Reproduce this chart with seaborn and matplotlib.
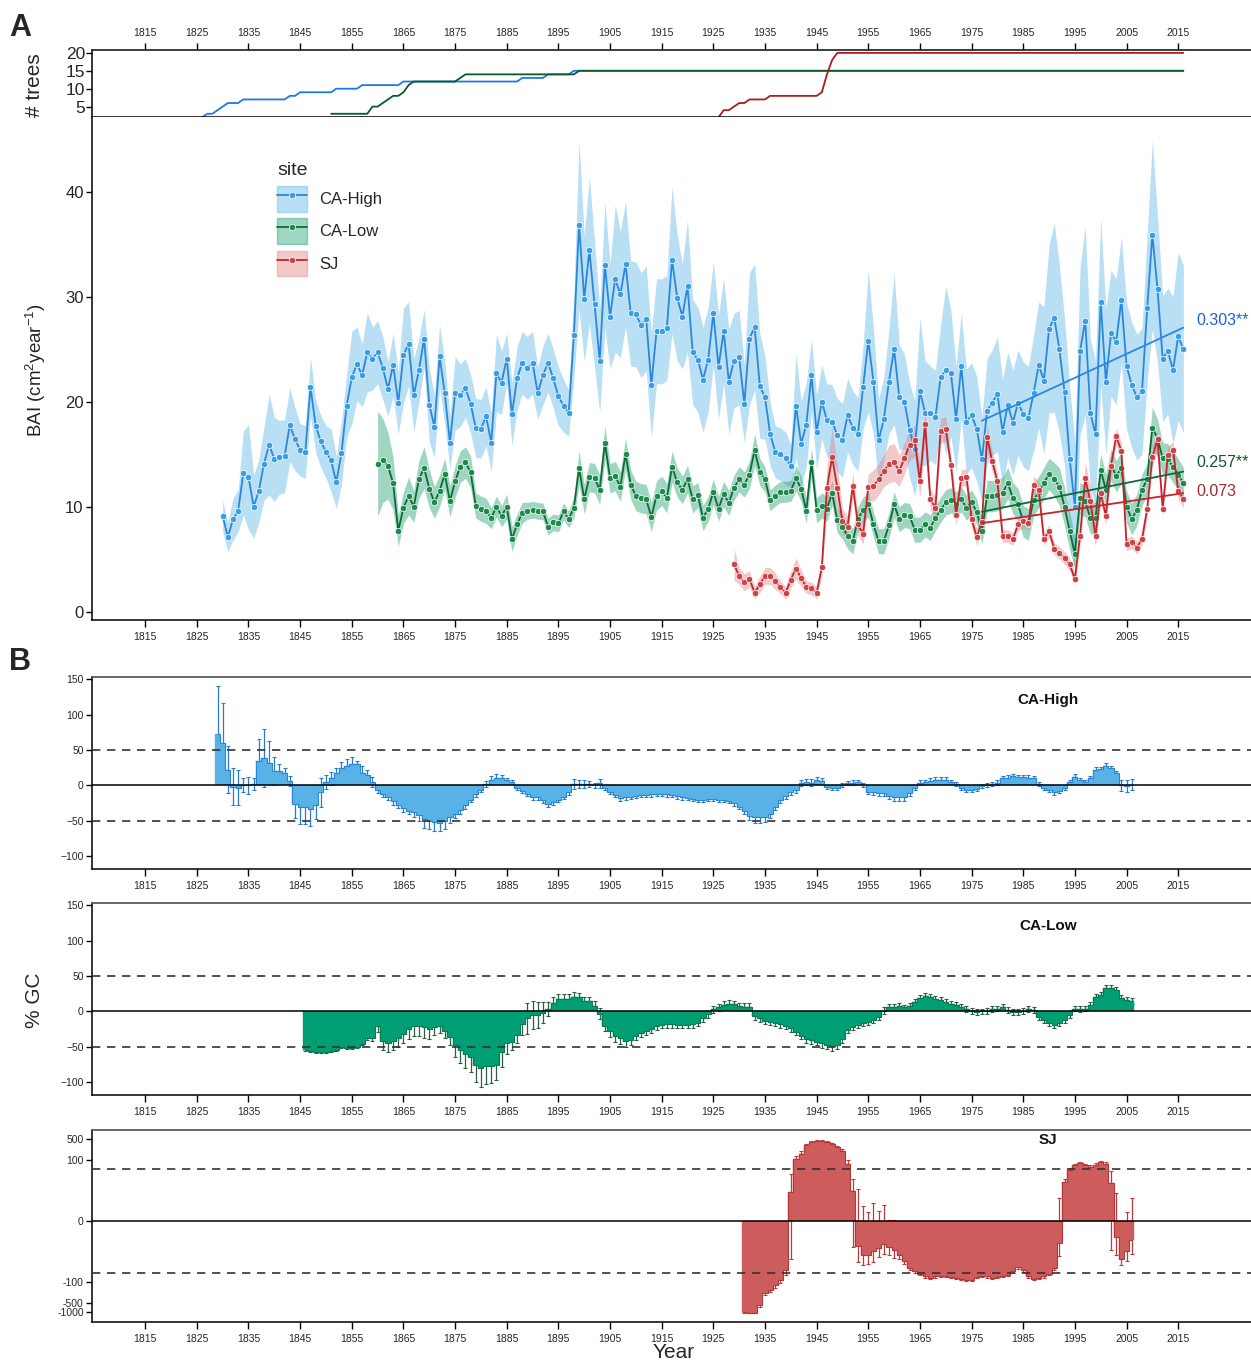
import matplotlib
matplotlib.use("Agg")
import matplotlib.pyplot as plt
import numpy as np
import pandas as pd
import seaborn as sb
from matplotlib.lines import Line2D
from matplotlib.patches import Patch

# ---------------- panel A (top): number of trees, line vertices
trees_high_yr = [1826, 1827, 1828, 1829, 1830, 1831, 1833, 1834, 1842, 1843, 1844, 1845, 1851,
                 1852, 1856, 1857, 1864, 1865, 1887, 1888, 1892, 1893, 1897, 1898, 2016]
trees_high_n = [2, 3, 3, 4, 5, 6, 6, 7, 7, 8, 8, 9, 9, 10, 10, 11, 11, 12, 12, 13, 13, 14, 14, 15, 15]
trees_low_yr = [1851, 1858, 1859, 1860, 1861, 1862, 1863, 1864, 1865, 1866, 1867, 1875, 1876,
                1877, 1898, 1899, 2016]
trees_low_n = [3, 3, 5, 5, 6, 7, 8, 8, 9, 11, 12, 12, 13, 14, 14, 15, 15]
trees_sj_yr = [1926, 1927, 1928, 1929, 1930, 1931, 1932, 1935, 1936, 1945, 1946, 1947, 1948, 1949, 2016]
trees_sj_n = [2, 4, 4, 5, 6, 6, 7, 7, 8, 8, 9, 14, 18, 20, 20]

# ---------------- panel A (main): BAI mean and ribbon half-width
bai_high_start = 1830
bai_high = [9.1, 7.1, 8.8, 9.6, 13.2, 12.8, 10.0, 11.5, 14.1, 15.9,
            14.5, 14.7, 14.8, 17.8, 16.4, 15.4, 15.2, 21.4, 17.7, 16.2,
            15.2, 14.4, 12.3, 15.1, 19.6, 22.3, 23.6, 22.5, 24.7, 24.1,
            24.7, 23.2, 21.2, 23.5, 19.9, 24.4, 25.5, 20.6, 23.0, 26.0,
            19.7, 17.6, 24.3, 20.8, 16.1, 20.8, 20.6, 21.3, 19.8, 17.5,
            17.4, 18.6, 16.1, 22.7, 21.8, 24.1, 18.8, 22.2, 23.7, 23.2,
            23.7, 20.8, 22.5, 23.7, 22.2, 20.5, 19.6, 18.9, 26.3, 36.8,
            29.8, 34.4, 29.3, 23.9, 33.0, 28.1, 31.7, 30.2, 33.1, 28.4,
            28.3, 27.3, 27.9, 21.6, 26.7, 26.7, 27.0, 33.5, 29.9, 28.1,
            31.0, 24.7, 24.0, 22.1, 24.0, 28.4, 23.3, 26.7, 21.9, 23.9,
            24.2, 19.8, 26.0, 27.1, 21.5, 20.4, 16.9, 15.2, 15.0, 14.6,
            13.9, 19.6, 16.0, 17.8, 22.5, 17.1, 20.0, 18.2, 18.1, 16.8,
            16.3, 18.7, 17.5, 16.9, 21.4, 25.8, 21.9, 16.3, 18.3, 21.9,
            25.0, 20.4, 20.0, 17.3, 15.5, 21.0, 18.9, 18.9, 18.5, 22.3,
            23.0, 22.7, 18.3, 23.4, 18.1, 18.7, 17.4, 14.5, 19.1, 19.9,
            20.7, 17.1, 19.7, 18.0, 19.9, 18.8, 18.4, 20.8, 23.5, 22.0,
            26.9, 28.0, 25.0, 20.9, 14.5, 10.0, 24.8, 27.7, 18.9, 16.9,
            29.5, 21.9, 26.5, 25.7, 29.7, 23.4, 21.6, 20.4, 21.0, 28.9,
            35.9, 30.7, 24.1, 24.8, 23.0, 26.2, 25.0]
bai_high_hw = [1.5, 1.4, 2.0, 2.0, 4.0, 5.0, 3.0, 3.0, 3.5, 4.8,
               4.0, 3.5, 3.5, 3.5, 3.0, 2.5, 2.5, 2.8, 2.5, 2.5,
               2.5, 3.0, 2.5, 3.0, 3.0, 4.4, 3.5, 3.0, 3.8, 3.0,
               3.0, 3.0, 2.6, 3.0, 3.0, 4.5, 4.0, 3.5, 3.0, 2.8,
               3.5, 3.0, 3.0, 3.0, 2.5, 3.5, 3.0, 2.8, 2.8, 2.8,
               2.8, 2.8, 2.8, 3.7, 3.0, 2.4, 3.0, 3.0, 3.0, 3.0,
               3.0, 2.5, 2.8, 2.8, 2.8, 2.8, 2.5, 2.2, 4.0, 8.0,
               6.0, 7.0, 6.0, 5.0, 6.0, 5.0, 7.0, 6.0, 6.0, 5.0,
               5.0, 5.0, 5.0, 5.0, 5.0, 5.0, 5.0, 7.0, 6.0, 5.0,
               6.3, 5.0, 5.0, 5.0, 5.0, 4.9, 5.0, 5.0, 5.0, 4.5,
               4.5, 3.7, 6.3, 6.0, 5.0, 4.0, 3.0, 2.5, 2.5, 2.5,
               2.0, 5.0, 4.0, 4.0, 3.5, 3.5, 3.5, 3.5, 3.5, 3.5,
               3.5, 3.5, 3.5, 3.5, 4.0, 6.8, 5.0, 4.0, 4.0, 5.0,
               7.2, 5.0, 4.5, 4.5, 4.5, 7.0, 5.0, 4.5, 4.5, 5.0,
               8.0, 6.0, 5.0, 5.0, 5.0, 5.0, 5.0, 4.0, 5.0, 5.0,
               5.5, 5.0, 5.0, 5.0, 5.0, 5.0, 5.0, 5.5, 6.0, 7.0,
               8.0, 9.0, 8.0, 7.0, 7.0, 6.0, 8.0, 9.0, 7.0, 7.0,
               8.0, 7.0, 6.0, 6.0, 6.0, 6.0, 6.0, 6.0, 6.0, 7.0,
               9.0, 7.0, 6.0, 6.0, 7.0, 8.0, 8.0]

bai_low_start = 1860
bai_low = [14.1, 14.4, 13.9, 12.2, 7.7, 9.9, 11.0, 10.0, 12.6, 13.7,
           11.7, 10.4, 11.5, 13.1, 10.5, 12.4, 13.8, 14.2, 13.3, 10.1,
           9.8, 9.6, 8.9, 10.0, 9.1, 10.0, 6.9, 8.3, 9.4, 9.6,
           9.7, 9.6, 9.55, 8.1, 8.5, 8.4, 9.55, 8.8, 9.9, 13.7,
           10.7, 12.8, 12.7, 11.6, 16.1, 12.7, 12.9, 11.9, 15.0, 12.1,
           11.0, 10.8, 10.7, 9.0, 11.05, 11.5, 10.8, 13.8, 12.3, 11.6,
           12.6, 10.7, 11.1, 8.9, 9.8, 11.4, 9.8, 11.2, 10.35, 11.8,
           12.6, 12.1, 13.05, 15.4, 13.3, 12.6, 10.6, 11.05, 11.4, 11.4,
           11.5, 12.7, 11.7, 9.6, 14.2, 9.65, 10.1, 9.8, 11.3, 8.7,
           8.1, 7.2, 6.7, 8.8, 9.7, 10.2, 8.3, 6.7, 6.7, 8.2,
           10.2, 8.8, 9.2, 9.1, 7.8, 7.8, 8.3, 8.0, 8.9, 9.7,
           10.4, 10.6, 10.2, 10.7, 9.9, 10.4, 9.5, 7.65, 11.0, 11.0,
           11.1, 11.3, 12.25, 10.8, 10.2, 8.6, 8.3, 10.6, 11.4, 12.25,
           13.1, 12.6, 11.9, 10.0, 7.65, 5.5, 10.8, 10.5, 8.9, 8.9,
           13.5, 11.6, 14.0, 12.9, 13.7, 10.0, 8.8, 9.7, 11.6, 12.6,
           17.5, 16.5, 14.6, 14.5, 13.8, 13.05, 12.25]
bai_low_hw = [5.0, 4.0, 3.2, 2.5, 1.5, 1.5, 1.8, 1.5, 1.8, 2.0,
              1.8, 1.5, 1.5, 1.5, 1.5, 1.5, 1.5, 1.5, 1.5, 1.2,
              1.2, 1.2, 1.0, 1.0, 1.0, 1.2, 1.2, 1.0, 1.0, 0.8,
              0.8, 0.8, 0.8, 0.8, 0.8, 0.8, 0.8, 0.8, 1.0, 1.6,
              1.4, 1.4, 1.4, 1.4, 1.6, 1.4, 1.4, 1.4, 1.5, 1.4,
              1.4, 1.4, 1.4, 1.4, 1.4, 1.4, 1.4, 1.5, 1.4, 1.3,
              1.3, 1.3, 1.2, 1.2, 1.2, 1.2, 1.2, 1.2, 1.2, 1.2,
              1.2, 1.2, 1.3, 1.5, 1.3, 1.2, 1.0, 1.0, 1.0, 1.0,
              1.0, 1.2, 1.2, 1.2, 1.4, 1.2, 1.2, 1.2, 1.2, 1.2,
              1.2, 1.2, 1.2, 1.2, 1.2, 1.2, 1.2, 1.2, 1.2, 1.2,
              1.2, 1.2, 1.2, 1.2, 1.2, 1.2, 1.2, 1.2, 1.2, 1.2,
              1.2, 1.2, 1.2, 1.2, 1.2, 1.2, 1.2, 1.2, 1.5, 1.5,
              1.5, 1.5, 1.5, 1.5, 1.5, 1.5, 1.5, 1.5, 1.5, 1.5,
              1.5, 1.6, 1.8, 1.8, 1.8, 1.5, 1.5, 1.5, 1.5, 1.5,
              1.5, 1.5, 1.5, 1.5, 1.5, 1.5, 1.5, 1.5, 1.5, 1.5,
              2.0, 1.8, 1.5, 1.5, 1.5, 1.5, 1.5]

bai_sj_start = 1929
bai_sj = [4.5, 3.4, 2.8, 3.1, 1.8, 2.6, 3.4, 3.4, 2.9, 2.3,
          1.8, 3.05, 4.1, 3.2, 2.35, 2.2, 1.8, 4.2, 11.8, 14.7,
          11.8, 8.6, 8.1, 12.0, 8.3, 7.4, 11.9, 12.0, 12.6, 13.4,
          14.05, 14.2, 13.4, 14.6, 15.9, 16.3, 12.4, 17.9, 10.7, 9.9,
          17.2, 17.4, 14.0, 9.2, 12.7, 12.8, 8.8, 7.1, 8.5, 16.6,
          14.3, 12.4, 7.2, 7.2, 6.9, 8.3, 8.6, 8.4, 12.1, 11.6,
          6.9, 7.65, 6.0, 5.6, 5.1, 4.5, 3.1, 7.2, 12.7, 10.5,
          7.2, 11.3, 9.1, 13.9, 16.7, 15.3, 6.4, 6.6, 6.1, 6.9,
          9.8, 14.7, 16.4, 9.8, 14.9, 15.4, 11.5, 10.7]
bai_sj_hw = [1.5, 0.8, 0.8, 0.8, 0.6, 0.8, 0.8, 0.8, 0.8, 0.6,
             0.6, 0.8, 1.0, 0.8, 0.6, 0.6, 0.6, 0.8, 2.0, 2.8,
             2.0, 1.2, 1.0, 1.2, 1.0, 1.0, 1.2, 1.5, 1.5, 1.5,
             1.8, 1.8, 1.5, 1.5, 1.5, 1.5, 1.5, 1.5, 1.0, 1.0,
             1.2, 1.2, 1.0, 1.0, 0.8, 0.8, 0.8, 0.8, 0.8, 1.2,
             1.0, 0.8, 0.6, 0.6, 0.6, 0.6, 0.6, 0.6, 0.8, 0.8,
             0.6, 0.6, 0.6, 0.6, 0.6, 0.6, 0.6, 0.8, 1.5, 1.5,
             1.0, 0.8, 0.8, 0.8, 0.8, 0.8, 0.6, 0.6, 0.6, 0.6,
             0.8, 1.0, 0.8, 0.8, 0.8, 0.8, 0.8, 0.8]

trend_from = 1977
trend_labels = ["0.303**", "0.257**", "0.073"]

# ---------------- panel B: % growth change and error
gc_high_start = 1829
gc_high = [72, 60, 22, -2, -3, 1, 0, 2, 35, 39,
           32, 20, 20, 17, 6, -26, -30, -30, -34, -27,
           -10, 5, 10, 17, 25, 28, 30, 30, 18, 15,
           5, -7, -12, -17, -22, -27, -32, -36, -38, -42,
           -48, -50, -52, -53, -50, -45, -40, -35, -28, -20,
           -12, -6, 2, 8, 11, 10, 7, 5, -3, -8,
           -12, -16, -17, -21, -26, -24, -20, -16, -10, 2,
           2, 2, 2, 0, 3, -4, -9, -14, -18, -17,
           -16, -15, -14, -13, -12.7, -12, -11.8, -12.7, -14, -15.5,
           -17, -18, -19, -20, -20, -19, -19, -21, -21, -22.5,
           -25, -30, -36, -43, -45, -45, -44, -40, -30, -21,
           -15, -9, -7, 3, 5, 4, 7.5, 6.6, -2, -4,
           -3, 0.5, 3, 4, 5, 0.5, -9, -10, -11, -11,
           -15, -17, -17, -17, -11, -4, 4, 5, 6.6, 7.5,
           7.5, 7.5, 5, 2, -4, -6.6, -6.6, -5.6, -1, 1,
           2, 4, 10, 11, 13, 12, 12, 11, 10, 2,
           -4, -6.6, -10, -7.5, -4, 5, 12, 7.5, 5, 10,
           21.6, 22.6, 27.3, 24, 17, 0, -1, 1]
gc_high_err = [68, 57, 33, 26, 25, 10, 12, 8, 30, 41,
               30, 20, 10, 7, 7, 20, 24, 25, 24, 21,
               20, 10, 9, 8, 8, 9, 10, 4, 10, 7,
               7, 4, 4, 4, 5, 5, 5, 5, 6, 8,
               12, 12, 12, 12, 12, 8, 6, 5, 5, 4,
               4, 4, 4, 5, 5, 4, 4, 3, 3, 3,
               3, 4, 4, 4, 4, 4, 3, 3, 3, 7,
               5, 6, 4, 4, 6, 3, 3, 3, 4, 4,
               3, 3, 3, 3, 3, 3, 3, 3, 3, 3,
               3, 3, 3, 3, 3, 3, 3, 3, 3, 3,
               4, 4, 5, 6, 8, 8, 8, 6, 5, 4,
               4, 4, 4, 4, 4, 5, 5, 4, 3, 3,
               3, 3, 3, 3, 3, 3, 3, 3, 4, 4,
               4, 5, 5, 5, 4, 3, 3, 3, 4, 4,
               4, 4, 3, 3, 3, 3, 3, 3, 3, 3,
               3, 3, 3, 3, 3, 3, 3, 3, 3, 3,
               3, 3, 3, 3, 3, 3, 4, 3, 3, 3,
               4, 4, 4, 4, 4, 8, 8, 8]

gc_low_start = 1846
gc_low = [-54, -56, -57, -57, -57, -56, -54, -50, -51, -51,
          -50, -46, -37, -37, -21, -42, -44, -42, -38, -32,
          -25, -21, -20, -22, -25, -22, -20, -27, -36, -47,
          -55, -60, -65, -75, -80, -77, -77, -75, -58, -45,
          -43, -33, -18, -10, -5, -5, -2, 3, 12, 17,
          17, 18, 20, 20, 15, 14, 8, -3, -20, -28,
          -35, -38, -42, -40, -35, -31, -28, -25, -21, -19,
          -18, -18, -19, -19, -19, -18, -16, -10, -4, 3,
          6, 9, 11, 10, 7, 6.5, 6.5, -6.5, -10, -13,
          -14.5, -16, -18, -20.5, -24, -28.5, -34.5, -39, -41, -42.5,
          -45, -47, -49.5, -47, -39, -26, -21.5, -19, -16, -14.5,
          -12, -7.5, 1, 6.5, 6.5, 7.5, 5.6, 7.5, 13.5, 19.6,
          21.5, 20.5, 18, 16, 13.5, 11, 9, 6.5, 3, 1,
          -0.5, 0, 1, 3, 4, 6.5, 2, -0.5, -0.5, 1,
          3.7, 2, -7.5, -12, -16, -19, -16, -12, -5, 4,
          3, 4, 9, 20.5, 23, 33.6, 33.6, 30, 19.6, 16,
          14.5]
gc_low_err = [2, 2, 2, 2, 2, 2, 2, 2, 2, 2,
              2, 2, 3, 5, 8, 12, 14, 12, 12, 12,
              14, 14, 15, 15, 14, 12, 10, 10, 12, 18,
              18, 20, 20, 25, 27, 25, 24, 22, 20, 15,
              12, 12, 15, 22, 20, 18, 15, 10, 8, 7,
              7, 7, 7, 6, 6, 6, 6, 8, 8, 8,
              8, 8, 8, 7, 6, 5, 5, 5, 5, 5,
              5, 5, 5, 5, 5, 5, 5, 5, 5, 5,
              5, 5, 5, 5, 5, 5, 5, 5, 5, 5,
              5, 5, 5, 5, 5, 5, 5, 5, 5, 5,
              6, 6, 6, 6, 5, 5, 5, 5, 5, 5,
              5, 5, 5, 4, 4, 4, 4, 4, 4, 4,
              4, 4, 4, 4, 4, 4, 4, 4, 4, 4,
              4, 4, 4, 4, 4, 4, 4, 4, 4, 4,
              4, 4, 4, 4, 4, 4, 4, 4, 4, 4,
              4, 4, 4, 4, 4, 4, 4, 4, 4, 4,
              4]

gc_sj_start = 1931
gc_sj = [-990, -1040, -1040, -555, -230, -179, -123, -84, -39, 8,
         106, 162, 302, 390, 425, 425, 390, 330, 268, 198,
         76, 8.8, -5.6, -12, -12, -9, -6.8, -4.6, -5.9, -7.9,
         -12, -20, -34, -44, -53, -65, -74, -65, -62, -62,
         -68, -74, -80, -88, -84, -68, -62, -65, -71, -68,
         -62, -57, -44, -31, -39, -65, -80, -74, -65, -53,
         -34, -4.4, 18, 48, 67, 80, 67, 59, 70, 86,
         76, 17, -2.4, -17, -9, -3.2]
gc_sj_err = [50, 50, 50, 100, 40, 40, 30, 25, 20, 25,
             30, 30, 30, 30, 30, 30, 30, 30, 30, 30,
             25, 15, 16, 14, 13, 12, 8, 7, 6, 8,
             5, 5, 5, 5, 5, 6, 6, 6, 6, 6,
             6, 6, 6, 6, 6, 6, 6, 6, 6, 6,
             6, 6, 6, 6, 6, 6, 6, 6, 6, 6,
             6, 9, 5, 5, 6, 8, 8, 8, 8, 8,
             8, 25, 10, 10, 10, 8]

year_ticks = list(range(1815, 2016, 10))
sj_ticks = [-1000, -500, -100, 0, 100, 500]

# ---------------- style
sb.set_theme(style="ticks")
plt.rcParams["font.family"] = ["Liberation Sans", "DejaVu Sans"]
plt.rcParams["mathtext.default"] = "regular"

c_high, c_low, c_sj = "#2a88dc", "#0d6b36", "#c4252c"
f_high, f_low, f_sj = "#5ab4e8", "#1a9e6e", "#e07f80"
XLIM = (1804.7, 2029.1)

fig = plt.figure(figsize=(12.51, 13.62), dpi=100)
W = 1251.0
H = 1362.0


def add_ax(top, bottom):
    return fig.add_axes([92 / W, 1 - bottom / H, (W - 92) / W, (bottom - top) / H])


def frame(ax, top=False):
    for s in ["left", "bottom"]:
        ax.spines[s].set_color("black")
        ax.spines[s].set_linewidth(1.1)
    ax.spines["right"].set_visible(False)
    ax.spines["top"].set_visible(top)
    ax.set_xlim(*XLIM)
    ax.set_xticks(year_ticks)
    ax.tick_params(axis="x", labelsize=7.5, length=5, width=1, color="black")
    ax.tick_params(axis="y", length=4, width=1, color="black")
    ax.set_xlabel("")
    ax.set_ylabel("")


# ---- trees panel
ax_t = add_ax(50, 117)
sb.lineplot(x=trees_high_yr, y=trees_high_n, ax=ax_t, color="#1f78e6", lw=1.3)
sb.lineplot(x=trees_low_yr, y=trees_low_n, ax=ax_t, color="#0b5a2a", lw=1.3)
sb.lineplot(x=trees_sj_yr, y=trees_sj_n, ax=ax_t, color="#a81c22", lw=1.3)
frame(ax_t, top=True)
ax_t.set_ylim(2.1, 20.8)
ax_t.set_yticks([5, 10, 15, 20])
ax_t.tick_params(axis="x", which="both", top=True, bottom=True, labeltop=True, labelbottom=False,
                 direction="out")
ax_t.tick_params(axis="y", labelsize=12.5, pad=1)

# ---- BAI panel
ax_a = add_ax(117, 620)
series = [
    ("CA-High", bai_high_start, bai_high, bai_high_hw, c_high, f_high, "#3a9de8"),
    ("CA-Low", bai_low_start, bai_low, bai_low_hw, c_low, f_low, "#1f8a4c"),
    ("SJ", bai_sj_start, bai_sj, bai_sj_hw, c_sj, f_sj, "#d0424a"),
]
frames = {}
for name, start, vals, hw, lc, fc, mc in series:
    df = pd.DataFrame({"year": np.arange(start, start + len(vals)), "bai": vals, "hw": hw})
    frames[name] = df
    ax_a.fill_between(df["year"], df["bai"] - df["hw"], df["bai"] + df["hw"], color=fc,
                      alpha=0.42, lw=0)
for name, start, vals, hw, lc, fc, mc in series:
    df = frames[name]
    sb.lineplot(data=df, x="year", y="bai", ax=ax_a, color=lc, lw=1.3, marker="o",
                markersize=4.6, markerfacecolor=mc, markeredgecolor="white",
                markeredgewidth=0.5, legend=False)

label_offsets = [0.7, 0.9, 0.2]
for (name, start, vals, hw, lc, fc, mc), lab, off in zip(series, trend_labels, label_offsets):
    df = frames[name]
    sub = df[df["year"] >= trend_from]
    sb.regplot(data=sub, x="year", y="bai", ax=ax_a, scatter=False, ci=None, truncate=True,
               line_kws=dict(color=lc, lw=1.3))
    slope, icpt = np.polyfit(sub["year"], sub["bai"], 1)
    yend = slope * sub["year"].max() + icpt
    tc = {"CA-High": "#1f5fd6", "CA-Low": "#0b5a2a", "SJ": "#a52a2a"}[name]
    ax_a.text(2018.6, yend + off, lab, color=tc, fontsize=11.5, va="center", ha="left")

frame(ax_a)
ax_a.set_ylim(-0.8, 47.1)
ax_a.set_yticks([0, 10, 20, 30, 40])
ax_a.tick_params(axis="y", labelsize=12, pad=2)

handles = []
for name, start, vals, hw, lc, fc, mc in series:
    handles.append((Patch(facecolor=fc, alpha=0.42, edgecolor=fc),
                    Line2D([], [], color=lc, lw=1.3, marker="o", markersize=4.6,
                           markerfacecolor=mc, markeredgecolor="white", markeredgewidth=0.5)))
leg = ax_a.legend(handles, [s[0] for s in series], title="site", loc="upper left",
                  bbox_to_anchor=(0.147, 0.94), frameon=False, fontsize=12,
                  title_fontsize=14, handlelength=1.8, handleheight=2.0, labelspacing=0.4,
                  handletextpad=0.7)
leg._legend_box.align = "left"


# ---- growth change panels
def gc_panel(ax, start, vals, errs, fill, edge, ecol, title, ty):
    yrs = np.arange(start, start + len(vals))
    ax.errorbar(yrs, vals, yerr=errs, fmt="none", ecolor=ecol, elinewidth=0.9, capsize=1.3,
                capthick=0.8, zorder=2)
    ax.bar(yrs, vals, width=1.0, color=fill, edgecolor=fill, linewidth=0.3, zorder=3)
    ax.step(yrs, vals, where="mid", color=edge, lw=0.8, zorder=3.5)
    ax.axhline(0, color="black", lw=1.1, zorder=4)
    ax.axhline(50, color="#333333", lw=1.2, ls=(0, (5, 4)), zorder=4)
    ax.axhline(-50, color="#333333", lw=1.2, ls=(0, (5, 4)), zorder=4)
    frame(ax, top=True)
    ax.spines["top"].set_color("#555555")
    ax.tick_params(axis="y", labelsize=7.5, pad=2)
    ax.text(0.825, ty, title, transform=ax.transAxes, ha="center", va="center",
            fontsize=11, fontweight="bold", color="#111111")


ax_b1 = add_ax(677, 869)
gc_panel(ax_b1, gc_high_start, gc_high, gc_high_err, "#58b2e6", "#2b86d6", "#2a7bd0",
         "CA-High", 0.88)
ax_b1.set_ylim(-118, 153)
ax_b1.set_yticks([-100, -50, 0, 50, 100, 150])

ax_b2 = add_ax(903, 1095)
gc_panel(ax_b2, gc_low_start, gc_low, gc_low_err, "#009e73", "#0a7a55", "#2f5e45",
         "CA-Low", 0.88)
ax_b2.set_ylim(-118, 153)
ax_b2.set_yticks([-100, -50, 0, 50, 100, 150])


def fwd(v):
    v = np.asarray(v, dtype=float)
    return np.sign(v) * np.log10(1 + np.abs(v))


def inv(u):
    u = np.asarray(u, dtype=float)
    return np.sign(u) * (10 ** np.abs(u) - 1)


ax_b3 = add_ax(1130, 1322)
ax_b3.set_yscale("function", functions=(fwd, inv))
gc_panel(ax_b3, gc_sj_start, gc_sj, gc_sj_err, "#cd5c5c", "#b23838", "#b83a3a", "SJ", 0.948)
ax_b3.set_ylim(-2080, 976)
ax_b3.set_yticks(sj_ticks)
ax_b3.set_yticklabels([str(t) for t in sj_ticks])
ax_b3.yaxis.set_minor_locator(matplotlib.ticker.NullLocator())

# ---- figure texts
fig.text(9 / W, 1 - 28 / H, "A", fontsize=22, fontweight="bold", va="center", ha="left")
fig.text(9 / W, 1 - 662 / H, "B", fontsize=22, fontweight="bold", va="center", ha="left")
fig.text(35 / W, 1 - 85 / H, "# trees", rotation=90, fontsize=15, va="center", ha="center")
fig.text(36 / W, 1 - 370 / H, r"BAI (cm$^{2}$year$^{-1}$)", rotation=90, fontsize=13.5,
         va="center", ha="center")
fig.text(35 / W, 1 - 1000 / H, "% GC", rotation=90, fontsize=15, va="center", ha="center")
fig.text(674 / W, 1 - 1352 / H, "Year", fontsize=15, va="center", ha="center")

fig.savefig("out.png", dpi=100)
